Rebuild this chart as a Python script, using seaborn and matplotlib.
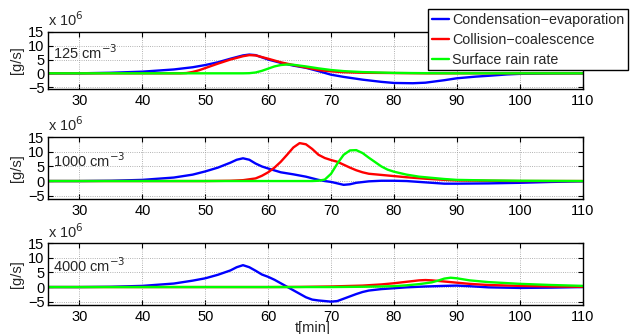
import matplotlib
matplotlib.use("Agg")
import matplotlib.pyplot as plt
import seaborn as sns
import numpy as np

sns.set_style("ticks")
plt.rcParams['font.family'] = ['Liberation Sans', 'DejaVu Sans']

# ---------------- data (values in units of 1e6 g/s) ----------------
panel_labels = ["125 cm$^{-3}$", "1000 cm$^{-3}$", "4000 cm$^{-3}$"]
series_names = ["Condensation\u2212evaporation", "Collision\u2212coalescence", "Surface rain rate"]
series_colors = ["#0000ff", "#ff0000", "#00ff00"]
xticks = [30, 40, 50, 60, 70, 80, 90, 100, 110]
yticks = [-5, 0, 5, 10, 15]

# panel 1: 125 cm^-3
p1_cond_t = [25, 30, 35, 40, 45, 48, 50, 52, 54, 56, 57, 58, 60, 62, 64, 66, 68, 70, 72, 75, 78, 80, 83, 85, 88, 90, 93, 95, 98, 100, 105, 110]
p1_cond_v = [0, 0, 0.2, 0.6, 1.4, 2.2, 3.0, 4.0, 5.3, 6.5, 6.8, 6.6, 5.0, 3.8, 2.8, 2.0, 0.8, -0.5, -1.3, -2.3, -3.1, -3.5, -3.6, -3.4, -2.5, -1.8, -1.2, -0.9, -0.4, -0.2, -0.05, 0]
p1_coll_t = [25, 40, 46, 47, 48, 49, 50, 52, 54, 56, 57, 58, 60, 62, 64, 66, 68, 70, 72, 75, 80, 85, 90, 110]
p1_coll_v = [0, 0, 0, 0.1, 0.5, 1.1, 1.9, 3.5, 5.0, 6.2, 6.6, 6.5, 5.3, 4.0, 3.0, 2.1, 1.2, 0.7, 0.4, 0.2, 0.1, 0, 0, 0]
p1_rain_t = [25, 50, 56, 57, 58, 59, 60, 61, 62, 63, 64, 66, 68, 70, 72, 75, 80, 85, 90, 100, 110]
p1_rain_v = [0, 0, 0, 0.05, 0.3, 0.9, 1.7, 2.5, 3.0, 3.2, 3.1, 2.5, 1.8, 1.2, 0.8, 0.45, 0.15, 0.05, 0, 0, 0]

# panel 2: 1000 cm^-3
p2_cond_t = [25, 30, 35, 40, 45, 48, 50, 52, 54, 55, 56, 57, 58, 59, 60, 62, 64, 66, 68, 69, 70, 71, 72, 73, 74, 76, 78, 80, 82, 84, 86, 88, 90, 95, 100, 105, 110]
p2_cond_v = [0, 0, 0.1, 0.4, 1.2, 2.2, 3.3, 4.6, 6.3, 7.3, 7.8, 7.3, 6.0, 5.0, 4.3, 3.0, 2.3, 1.5, 0.4, 0, -0.3, -0.8, -1.3, -1.1, -0.6, -0.1, 0.1, 0.1, 0, -0.3, -0.6, -0.9, -0.9, -0.8, -0.6, -0.3, -0.1]
p2_coll_t = [25, 50, 54, 56, 58, 59, 60, 61, 62, 63, 64, 65, 66, 67, 68, 69, 70, 71, 72, 73, 74, 75, 76, 78, 80, 82, 85, 88, 90, 95, 100, 110]
p2_coll_v = [0, 0, 0.1, 0.3, 0.9, 1.8, 3.0, 4.6, 6.6, 9.0, 11.5, 13.0, 12.6, 11.0, 9.0, 7.9, 7.2, 6.6, 5.6, 4.6, 3.7, 3.0, 2.5, 2.1, 1.7, 1.3, 0.8, 0.4, 0.2, 0.1, 0, 0]
p2_rain_t = [25, 67, 68, 69, 70, 71, 72, 73, 74, 75, 76, 77, 78, 79, 80, 82, 84, 86, 88, 90, 95, 100, 110]
p2_rain_v = [0, 0, 0.1, 0.5, 2.5, 6.0, 9.0, 10.5, 10.6, 9.6, 8.0, 6.5, 5.0, 3.9, 3.2, 2.2, 1.5, 1.1, 0.7, 0.4, 0.2, 0.1, 0]

# panel 3: 4000 cm^-3
p3_cond_t = [25, 30, 35, 40, 45, 48, 50, 52, 54, 55, 56, 57, 58, 59, 60, 61, 62, 63, 64, 65, 66, 67, 68, 70, 71, 72, 73, 74, 75, 76, 78, 80, 82, 85, 88, 90, 92, 95, 100, 105, 110]
p3_cond_v = [0, 0, 0.1, 0.4, 1.2, 2.2, 3.0, 4.2, 5.7, 6.8, 7.5, 6.8, 5.6, 4.3, 3.5, 2.5, 1.3, 0.1, -1.1, -2.3, -3.5, -4.3, -4.6, -5.0, -4.8, -4.0, -3.2, -2.4, -1.7, -1.2, -0.7, -0.4, -0.1, 0.2, 0.4, 0.5, 0.3, -0.1, -0.3, -0.2, 0]
p3_coll_t = [25, 60, 65, 70, 75, 78, 80, 82, 84, 85, 86, 88, 90, 92, 95, 100, 105, 110]
p3_coll_v = [0, 0, 0.05, 0.2, 0.5, 0.9, 1.3, 1.8, 2.3, 2.4, 2.3, 1.9, 1.5, 1.1, 0.7, 0.4, 0.2, 0.1]
p3_rain_t = [25, 70, 75, 78, 80, 82, 84, 86, 87, 88, 89, 90, 92, 95, 100, 105, 110]
p3_rain_v = [0, 0, 0.1, 0.2, 0.3, 0.6, 1.0, 1.6, 2.2, 2.9, 3.2, 3.0, 2.3, 1.7, 1.1, 0.7, 0.4]

panels = [
    [(p1_cond_t, p1_cond_v), (p1_coll_t, p1_coll_v), (p1_rain_t, p1_rain_v)],
    [(p2_cond_t, p2_cond_v), (p2_coll_t, p2_coll_v), (p2_rain_t, p2_rain_v)],
    [(p3_cond_t, p3_cond_v), (p3_coll_t, p3_coll_v), (p3_rain_t, p3_rain_v)],
]

# ---------------- layout ----------------
W, H = 633, 334
fig = plt.figure(figsize=(W / 100, H / 100), dpi=100)

left_px, right_px = 48, 582.7
boxes_px = [(31.7, 89.3), (136.7, 198.7), (243.0, 304.7)]
ylims = [(-5.8, 15.1), (-6.05, 15.2), (-6.05, 15.1)]
text_y = [0.63, 0.61, 0.63]

fs = 10.5
handles = None
for i, ((top, bot), series) in enumerate(zip(boxes_px, panels)):
    ax = fig.add_axes([left_px / W, 1 - bot / H, (right_px - left_px) / W, (bot - top) / H])
    for (t, v), c, name in zip(series, series_colors, series_names):
        sns.lineplot(x=t, y=v, color=c, lw=1.7, ax=ax, label=name, legend=False)
    ax.set_xlim(25, 110)
    ax.set_ylim(*ylims[i])
    ax.set_xticks(xticks)
    ax.set_yticks(yticks)
    ax.tick_params(direction='in', top=True, right=True, length=3.5, width=0.8,
                   labelsize=fs, colors='black')
    ax.tick_params(axis='x', pad=3.5)
    ax.tick_params(axis='y', pad=2.5)
    ax.grid(True, linestyle=':', color='#999999', linewidth=0.6)
    for sp in ax.spines.values():
        sp.set_color('black')
        sp.set_linewidth(1.0)
    ax.set_ylabel("[g/s]", fontsize=fs)
    ax.yaxis.set_label_coords(-0.045, 0.5)
    ax.text(0.0, 1.04, "x 10$^{6}$", transform=ax.transAxes, fontsize=fs,
            ha='left', va='bottom')
    ax.text(0.01, text_y[i], panel_labels[i], transform=ax.transAxes, fontsize=fs,
            ha='left', va='center')
    if i == 2:
        ax.set_xlabel("t[min]", fontsize=fs)
        ax.xaxis.set_label_coords(0.495, -0.27)
    if handles is None:
        handles = ax.get_lines()[:3]

leg = fig.legend(handles, series_names, loc='upper left',
                 bbox_to_anchor=(428 / W, 1 - 9 / H), borderaxespad=0,
                 fontsize=10.3, frameon=True, fancybox=False, framealpha=1,
                 edgecolor='black', handlelength=1.2, handletextpad=0.25,
                 borderpad=0.25, labelspacing=0.42)
leg.get_frame().set_linewidth(1.0)

fig.savefig("out.png", dpi=100)
